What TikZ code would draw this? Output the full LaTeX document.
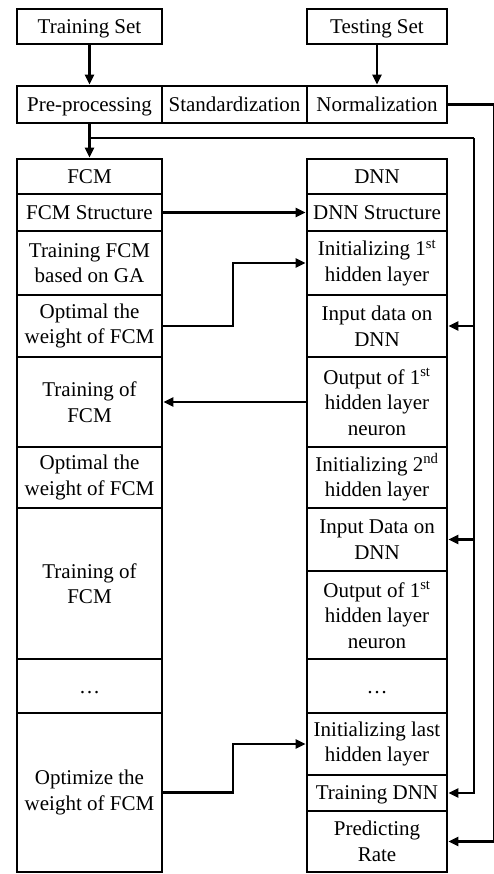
\documentclass[tikz,border=0pt]{standalone}
\usepackage{fontspec}
\setmainfont{Liberation Serif}
\usetikzlibrary{arrows.meta}
\tikzset{
  box/.style={draw, line width=2.6pt, inner sep=0pt, align=center, font=\fontsize{21}{25.5}\selectfont},
  lc/.style={box, minimum width=145pt},
  rc/.style={box, minimum width=140pt},
  one/.style={text depth=0pt},
  dots/.style={text height=14pt, text depth=0pt},
  conn/.style={line width=2.3pt},
  arr/.style={conn, -{Triangle[length=10pt,width=9pt]}},
}
\begin{document}
\begin{tikzpicture}[x=1pt,y=-1pt]
\useasboundingbox (0,0) rectangle (494,874);
% top
\node[lc, one, minimum height=35pt] (ts) at (89.5,26.5) {Training Set};
\node[rc, one, minimum height=35pt] (tst) at (377,26.5) {Testing Set};
\node[lc, one, minimum height=37pt] (pre) at (89.5,104.5) {Pre-processing};
\node[box, one, minimum width=145pt, minimum height=37pt] (std) at (234.5,104.5) {Standardization};
\node[rc, one, minimum height=37pt] (norm) at (377,104.5) {Normalization};
% left column
\node[lc, one, minimum height=35pt] (fcm) at (89.5,176.5) {FCM};
\node[lc, one, minimum height=37pt] (fs) at (89.5,212.5) {FCM Structure};
\node[lc, minimum height=64pt] (tga) at (89.5,263) {Training FCM\\based on GA};
\node[lc, minimum height=62pt] (opt1) at (89.5,326) {Optimal the\\weight of FCM};
\node[lc, minimum height=90pt] (tr1) at (89.5,402) {Training of\\FCM};
\node[lc, minimum height=61pt] (opt2) at (89.5,477.5) {Optimal the\\weight of FCM};
\node[lc, minimum height=151pt] (tr2) at (89.5,583.5) {Training of\\FCM};
\node[lc, dots, minimum height=54pt] (ldots) at (89.5,686) {…};
\node[lc, minimum height=159pt] (opt3) at (89.5,792.5) {Optimize the\\weight of FCM};
% right column
\node[rc, one, minimum height=35pt] (dnn) at (377,176.5) {DNN};
\node[rc, one, minimum height=37pt] (ds) at (377,212.5) {DNN Structure};
\node[rc, minimum height=64pt] (init1) at (377,263) {Initializing 1\textsuperscript{st}\\hidden layer};
\node[rc, minimum height=62pt] (in1) at (377,326) {Input data on\\DNN};
\node[rc, minimum height=90pt] (out1) at (377,402) {Output of 1\textsuperscript{st}\\hidden layer\\neuron};
\node[rc, minimum height=61pt] (init2) at (377,477.5) {Initializing 2\textsuperscript{nd}\\hidden layer};
\node[rc, minimum height=63pt] (in2) at (377,539.5) {Input Data on\\DNN};
\node[rc, minimum height=88pt] (out2) at (377,615) {Output of 1\textsuperscript{st}\\hidden layer\\neuron};
\node[rc, dots, minimum height=54pt] (rdots) at (377,686) {…};
\node[rc, minimum height=62pt] (initl) at (377,744) {Initializing last\\hidden layer};
\node[rc, one, minimum height=36pt] (tdnn) at (377,793) {Training DNN};
\node[rc, minimum height=61pt] (pred) at (377,841.5) {Predicting\\Rate};
% connectors
\draw[arr] (ts) -- (pre);
\draw[arr] (tst) -- (norm);
\draw[arr] (pre) -- (fcm);
\coordinate (br) at (89.5,138);
\coordinate (rt) at (474,138);
\draw[conn] (br) -- (rt);
\draw[arr] (rt) |- (tdnn.east);
\draw[arr] (rt |- in1.east) -- (in1.east);
\draw[arr] (rt |- in2.east) -- (in2.east);
\draw[arr] (norm.east) -- (494,104.5) |- (pred.east);
\draw[arr] (fs) -- (ds);
\draw[arr] (opt1.east) -- (233,326) |- (init1.west);
\draw[arr] (out1) -- (tr1);
\draw[arr] (opt3.east) -- (233,792.5) |- (initl.west);
\end{tikzpicture}
\end{document}
